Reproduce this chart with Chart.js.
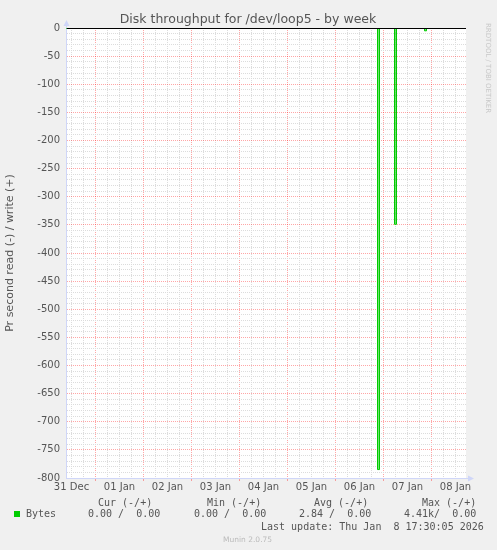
<!DOCTYPE html>
<html>
<head>
<meta charset="utf-8">
<title>Disk throughput for /dev/loop5 - by week</title>
<script src="https://cdn.jsdelivr.net/npm/chart.js@4"></script>
<style>
    html, body { margin: 0; padding: 0; background: #f0f0f0; }
    #wrap { position: relative; width: 497px; height: 550px; overflow: hidden; }
    #chart { position: absolute; left: 0; top: 0; }
    .mono { position: absolute; white-space: pre; font-family: "DejaVu Sans Mono", monospace; font-size: 10px; line-height: 12px; color: #555; }
    #title { position: absolute; left: 0; top: 11px; width: 496px; text-align: center; font-family: "DejaVu Sans", sans-serif; font-size: 12.5px; line-height: 15px; color: #555; }
    #rrd { position: absolute; left: 483px; top: 23px; writing-mode: vertical-rl; font-family: "DejaVu Sans", sans-serif; font-size: 7px; line-height: 9px; color: #c8c8c8; }
    #munin { position: absolute; left: 223px; top: 535px; font-family: "DejaVu Sans", sans-serif; font-size: 7.5px; line-height: 9px; color: #bbb; }
    #swatch { position: absolute; left: 14px; top: 511px; width: 6px; height: 6px; background: #00cc00; }
</style>
</head>
<body>
<div id="wrap">
    <canvas id="chart" width="497" height="550"></canvas>
    <div id="title">Disk throughput for /dev/loop5 - by week</div>
    <div id="rrd">RRDTOOL / TOBI OETIKER</div>

    <div class="mono" style="left:98px; top:497px;">Cur (-/+)</div>
    <div class="mono" style="left:207px; top:497px;">Min (-/+)</div>
    <div class="mono" style="left:314px; top:497px;">Avg (-/+)</div>
    <div class="mono" style="left:422px; top:497px;">Max (-/+)</div>

    <div id="swatch"></div>
    <div class="mono" style="left:26px; top:508px;">Bytes</div>
    <div class="mono" style="left:88px; top:508px;">0.00 /  0.00</div>
    <div class="mono" style="left:194px; top:508px;">0.00 /  0.00</div>
    <div class="mono" style="left:299px; top:508px;">2.84 /  0.00</div>
    <div class="mono" style="left:404px; top:508px;">4.41k/  0.00</div>

    <div class="mono" style="left:261px; top:521px;">Last update: Thu Jan  8 17:30:05 2026</div>
    <div id="munin">Munin 2.0.75</div>
</div>
<script>
// Chart data (hours counted from 31 Dec 00:00)
const dayLabels = ['31 Dec', '01 Jan', '02 Jan', '03 Jan', '04 Jan', '05 Jan', '06 Jan', '07 Jan', '08 Jan'];
const yTickValues = [0, -50, -100, -150, -200, -250, -300, -350, -400, -450, -500, -550, -600, -650, -700, -750, -800];

const readHours  = [9.25, 165, 166, 173.5, 174.5, 188.5, 189.5, 209.25];
const readValues = [0, -785, 0, -349, 0, -5, 0, 0];
const writeHours  = [9.25, 209.25];
const writeValues = [0, 0];

const xMin = 9.25;
const xMax = 209.25;

// Colours (munin / rrdtool look)
const fontColor = '#555';
const axisColor = '#cfd6f8';
const majorGrid = 'rgba(255, 0, 0, 0.35)';
const minorGrid = '#dcdcdc';
const gridDash = [1, 1];

// grid every 6 hours, labels at noon
const gridHours = [];
for (let h = 12; h <= xMax; h += 6) gridHours.push(h);

// minor y grid every 10
const yGridValues = [];
for (let v = 0; v >= -800; v -= 10) yGridValues.push(v);

function toPoints(xs, ys) {
    return xs.map((x, i) => ({ x: x, y: ys[i] }));
}

// White plot canvas
const plotBackground = {
    id: 'plotBackground',
    beforeDraw(chart) {
        const { ctx, chartArea: a } = chart;
        ctx.save();
        ctx.fillStyle = '#ffffff';
        ctx.fillRect(a.left, a.top, a.right - a.left, a.bottom - a.top);
        ctx.restore();
    }
};

// Black zero rule on top of the data, plus the axis arrows
const zeroRule = {
    id: 'zeroRule',
    afterDatasetsDraw(chart) {
        const { ctx, chartArea: a, scales } = chart;
        const py = Math.round(scales.y.getPixelForValue(0)) + 0.5;
        ctx.save();
        ctx.strokeStyle = '#000000';
        ctx.lineWidth = 1;
        ctx.beginPath();
        ctx.moveTo(a.left + 1, py);
        ctx.lineTo(a.right, py);
        ctx.stroke();

        // axis extensions + arrows
        const ax = Math.round(a.left) + 0.5;
        const ay = Math.round(a.bottom) + 0.5;
        ctx.strokeStyle = axisColor;
        ctx.beginPath();
        ctx.moveTo(ax, a.top);
        ctx.lineTo(ax, a.top - 3);
        ctx.moveTo(a.right, ay);
        ctx.lineTo(a.right + 3, ay);
        ctx.stroke();
        ctx.fillStyle = axisColor;
        ctx.beginPath();
        ctx.moveTo(ax, a.top - 8);
        ctx.lineTo(ax - 3, a.top - 2);
        ctx.lineTo(ax + 3, a.top - 2);
        ctx.closePath();
        ctx.fill();
        ctx.beginPath();
        ctx.moveTo(a.right + 8, ay);
        ctx.lineTo(a.right + 2, ay - 3);
        ctx.lineTo(a.right + 2, ay + 3);
        ctx.closePath();
        ctx.fill();
        ctx.restore();
    }
};

const ctx = document.getElementById('chart').getContext('2d');
const chart = new Chart(ctx, {
    type: 'line',
    data: {
        datasets: [{
            label: 'write',
            data: toPoints(writeHours, writeValues),
            borderColor: '#00cc00',
            borderWidth: 1,
            pointRadius: 0,
            fill: false,
            clip: 0
        }, {
            label: 'Bytes',
            data: toPoints(readHours, readValues),
            borderColor: '#00cc00',
            backgroundColor: 'rgba(0, 204, 0, 0.55)',
            borderWidth: 1,
            pointRadius: 0,
            stepped: true,
            fill: 'origin',
            clip: 0
        }]
    },
    options: {
        responsive: false,
        animation: false,
        devicePixelRatio: 1,
        layout: { padding: { left: 0, top: 28, right: 31, bottom: 52 } },
        plugins: {
            legend: { display: false },
            tooltip: { enabled: false },
            title: { display: false }
        },
        scales: {
            x: {
                type: 'linear',
                min: xMin,
                max: xMax,
                afterBuildTicks: (scale) => { scale.ticks = gridHours.map(v => ({ value: v })); },
                afterFit: (scale) => { scale.height = 20; },
                ticks: {
                    autoSkip: false,
                    maxRotation: 0,
                    padding: 0,
                    color: fontColor,
                    font: { family: 'DejaVu Sans', size: 10 },
                    callback: (v) => (v % 24 === 12 ? dayLabels[(v - 12) / 24] : '')
                },
                grid: {
                    lineWidth: 1,
                    drawTicks: true,
                    tickLength: 3,
                    color: (c) => (c.tick && c.tick.value % 24 === 0 ? majorGrid : minorGrid),
                    tickColor: (c) => (c.tick && c.tick.value % 24 === 0 ? majorGrid : 'transparent')
                },
                border: { color: axisColor, dash: gridDash }
            },
            y: {
                min: -800,
                max: 0,
                afterBuildTicks: (scale) => { scale.ticks = yGridValues.map(v => ({ value: v })); },
                afterFit: (scale) => { scale.width = 66; },
                ticks: {
                    autoSkip: false,
                    padding: 6,
                    color: fontColor,
                    font: { family: 'DejaVu Sans', size: 10 },
                    callback: (v) => (yTickValues.includes(v) ? String(v) : '')
                },
                grid: {
                    drawTicks: false,
                    lineWidth: 1,
                    color: (c) => {
                        const v = c.tick ? c.tick.value : 1;
                        if (v === 0 || v === -800) return 'transparent';
                        return yTickValues.includes(v) ? majorGrid : minorGrid;
                    }
                },
                border: { color: axisColor, dash: gridDash },
                title: {
                    display: true,
                    text: 'Pr second read (-) / write (+)',
                    color: fontColor,
                    font: { family: 'DejaVu Sans', size: 11 },
                    padding: { top: 3.5, bottom: 0 }
                }
            }
        }
    },
    plugins: [plotBackground, zeroRule]
});
</script>
</body>
</html>
